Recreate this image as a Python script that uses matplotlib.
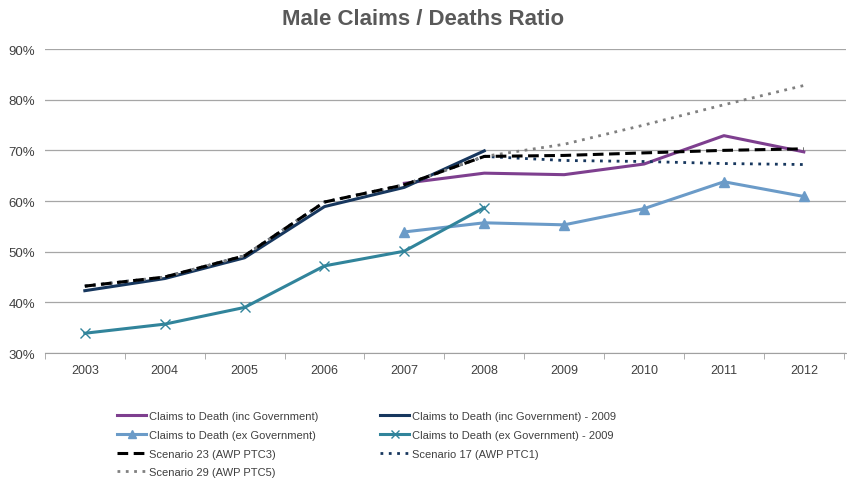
import matplotlib
matplotlib.use("Agg")
import matplotlib.pyplot as plt
import numpy as np

plt.rcParams['font.family'] = ['Liberation Sans', 'DejaVu Sans']

years = [2003, 2004, 2005, 2006, 2007, 2008, 2009, 2010, 2011, 2012]

# values in %; None = no point
inc_gov = [None, None, None, None, 63.5, 65.5, 65.2, 67.3, 72.9, 69.7]
inc_gov_2009 = [42.3, 44.7, 48.8, 58.9, 62.7, 69.9, None, None, None, None]
ex_gov = [None, None, None, None, 53.9, 55.7, 55.3, 58.5, 63.8, 60.9]
ex_gov_2009 = [33.9, 35.7, 39.0, 47.2, 50.1, 58.7, None, None, None, None]
scen23 = [43.2, 45.0, 49.2, 59.8, 63.2, 68.8, 69.0, 69.5, 70.0, 70.3]
scen17 = [43.2, 45.0, 49.2, 59.8, 63.2, 68.8, 68.0, 67.8, 67.4, 67.2]
scen29 = [43.2, 45.0, 49.2, 59.8, 63.2, 68.8, 71.2, 75.0, 79.0, 82.8]

y_ticks = [30, 40, 50, 60, 70, 80, 90]


def arr(v):
    return np.array([np.nan if x is None else x for x in v], dtype=float)


x = np.arange(len(years))
fig = plt.figure(figsize=(8.47, 4.81), dpi=100)
ax = fig.add_axes([0.053, 0.264, 0.946, 0.632])

h_exg, = ax.plot(x, arr(ex_gov), color="#6b9bc8", lw=2.2, marker="^", ms=7,
                 label="Claims to Death (ex Government)")
h_exg9, = ax.plot(x, arr(ex_gov_2009), color="#31849b", lw=2.2, marker="x", ms=7,
                  mew=1.0, label="Claims to Death (ex Government) - 2009")
h_inc, = ax.plot(x, arr(inc_gov), color="#7e3f8f", lw=2.2,
                 label="Claims to Death (inc Government)")
h_inc9, = ax.plot(x, arr(inc_gov_2009), color="#17375e", lw=2.2,
                  label="Claims to Death (inc Government) - 2009")
h_s17, = ax.plot(x, arr(scen17), color="#17375e", lw=2, ls=(0, (1, 2)),
                 label="Scenario 17 (AWP PTC1)")
h_s29, = ax.plot(x, arr(scen29), color="#808080", lw=2, ls=(0, (1, 2)),
                 label="Scenario 29 (AWP PTC5)")
h_s23, = ax.plot(x, arr(scen23), color="black", lw=2.2, ls=(0, (3.5, 1.8)),
                 label="Scenario 23 (AWP PTC3)")

ax.set_xlim(-0.5, len(years) - 0.5 + 0.03)
ax.set_ylim(30, 90)
ax.set_yticks(y_ticks)
ax.set_yticklabels([f"{t}%" for t in y_ticks])
ax.set_xticks(x)
ax.set_xticklabels([str(y) for y in years])
ax.set_xticks(np.arange(len(years) + 1) - 0.5, minor=True)
ax.tick_params(axis="x", which="major", length=0, pad=8, labelsize=9, labelcolor="#404040")
ax.tick_params(axis="x", which="minor", length=4, color="#a0a0a0")
ax.tick_params(axis="y", length=0, pad=7, labelsize=9.5, labelcolor="#404040")
ax.grid(axis="y", color="#a6a6a6", lw=0.9)
ax.set_axisbelow(True)
for s in ["top", "right", "left"]:
    ax.spines[s].set_visible(False)
ax.spines["bottom"].set_color("#a0a0a0")

fig.text(0.5, 0.96, "Male Claims / Deaths Ratio", ha="center", va="center",
         fontsize=16, fontweight="bold", color="#595959")

handles = [h_inc, h_exg, h_s23, h_s29, h_inc9, h_exg9, h_s17]
leg = fig.legend(handles=handles, loc="upper left", bbox_to_anchor=(0.133, 0.152),
                 ncol=2, frameon=False, fontsize=8, handlelength=2.6,
                 handletextpad=0.25, labelspacing=0.78, columnspacing=5.6,
                 borderaxespad=0, labelcolor="#404040", markerscale=0.75)

fig.savefig("out.png", dpi=100)
